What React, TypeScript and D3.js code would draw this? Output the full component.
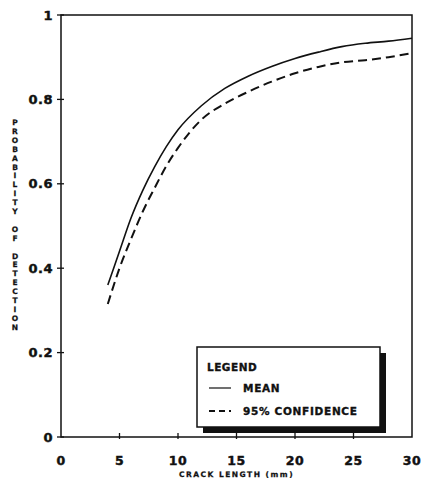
import React from 'react';
import * as d3 from 'd3';

// crack length (mm) and probability of detection
const crackLength = [4, 5, 6, 7, 8, 9, 10, 12, 14, 16, 18, 20, 22, 24, 26, 28, 30];
const meanPod = [0.36, 0.44, 0.52, 0.585, 0.64, 0.688, 0.728, 0.785, 0.826, 0.855, 0.878, 0.897, 0.912, 0.925, 0.933, 0.938, 0.945];
const conf95Pod = [0.315, 0.40, 0.47, 0.535, 0.59, 0.642, 0.685, 0.752, 0.79, 0.818, 0.842, 0.862, 0.877, 0.888, 0.893, 0.9, 0.91];

const xTicks = [0, 5, 10, 15, 20, 25, 30];
const yTicks = [0, 0.2, 0.4, 0.6, 0.8, 1];
const yLabel = 'PROBABILITY OF DETECTION';
const xLabel = 'CRACK LENGTH (mm)';
const legendItems = [
  { label: 'MEAN', dash: null },
  { label: '95% CONFIDENCE', dash: '6 4' },
];

const width = 422;
const height = 482;
const font = '"DejaVu Sans", sans-serif';

export default function App() {
  const x = d3.scaleLinear().domain([0, 30]).range([61, 412]);
  const y = d3.scaleLinear().domain([0, 1]).range([437, 15]);

  const line = d3.line<number>()
    .x((_, i) => x(crackLength[i]))
    .y(d => y(d))
    .curve(d3.curveMonotoneX);

  const [x0, x1] = x.range();
  const [y0, y1] = y.range();

  // legend box
  const lx = 197, ly = 347, lw = 183, lh = 80;
  // heavy print look
  const ink = { fill: '#111', stroke: '#111', strokeWidth: 0.45 };

  return (
    <svg width={width} height={height} style={{ position: 'absolute', left: 0, top: 0, background: '#fff' }}>
      {/* frame */}
      <rect x={x0} y={y1} width={x1 - x0} height={y0 - y1} fill="none" stroke="#111" strokeWidth={1.5} />

      {/* y ticks */}
      {yTicks.map(t => (
        <g key={'y' + t}>
          <line x1={x0 - 4} x2={x0 + 3} y1={y(t)} y2={y(t)} stroke="#111" strokeWidth={1.3} />
          <text x={53} y={y(t)} dy="0.36em" textAnchor="end" fontFamily={font} fontWeight="bold" fontSize={13} letterSpacing={0.5} {...ink}>
            {t === 0 || t === 1 ? String(t) : t.toFixed(1)}
          </text>
        </g>
      ))}

      {/* x ticks */}
      {xTicks.map(t => (
        <g key={'x' + t}>
          {t > 0 && t < 30 && (
            <line x1={x(t)} x2={x(t)} y1={y0 + 2} y2={y0 - 4} stroke="#111" strokeWidth={1.3} />
          )}
          <text x={x(t)} y={465} textAnchor="middle" fontFamily={font} fontWeight="bold" fontSize={12.5} letterSpacing={0.5} {...ink}>
            {t}
          </text>
        </g>
      ))}

      {/* axis titles */}
      <text x={(x0 + x1) / 2} y={477} textAnchor="middle" fontFamily={font} fontWeight="bold" fontSize={7.5} letterSpacing={1.5} {...ink} strokeWidth={0.25}>
        {xLabel}
      </text>
      {yLabel.split('').map((c, i) => (
        <text key={'yl' + i} x={15} y={125 + i * 8.9} textAnchor="middle" fontFamily={font} fontWeight="bold" fontSize={7.5} {...ink} strokeWidth={0.25}>
          {c}
        </text>
      ))}

      {/* curves */}
      <path d={line(meanPod) || ''} fill="none" stroke="#111" strokeWidth={1.6} />
      <path d={line(conf95Pod) || ''} fill="none" stroke="#111" strokeWidth={2} strokeDasharray="9 5" />

      {/* legend */}
      <rect x={lx + 6} y={ly + 6} width={lw} height={lh} fill="#111" />
      <rect x={lx} y={ly} width={lw} height={lh} fill="#fff" stroke="#111" strokeWidth={1.5} />
      <text x={lx + 10} y={ly + 24} fontFamily={font} fontWeight="bold" fontSize={10.5} letterSpacing={0.5} {...ink} strokeWidth={0.35}>LEGEND</text>
      {legendItems.map((it, i) => (
        <g key={it.label}>
          <line x1={lx + 12} x2={lx + 34} y1={ly + 41 + i * 23} y2={ly + 41 + i * 23} stroke="#111"
            strokeWidth={it.dash ? 2 : 1.2} strokeDasharray={it.dash || undefined} />
          <text x={lx + 46} y={ly + 45 + i * 23} fontFamily={font} fontWeight="bold" fontSize={10.5} letterSpacing={0.7} {...ink} strokeWidth={0.35}>
            {it.label}
          </text>
        </g>
      ))}
    </svg>
  );
}
